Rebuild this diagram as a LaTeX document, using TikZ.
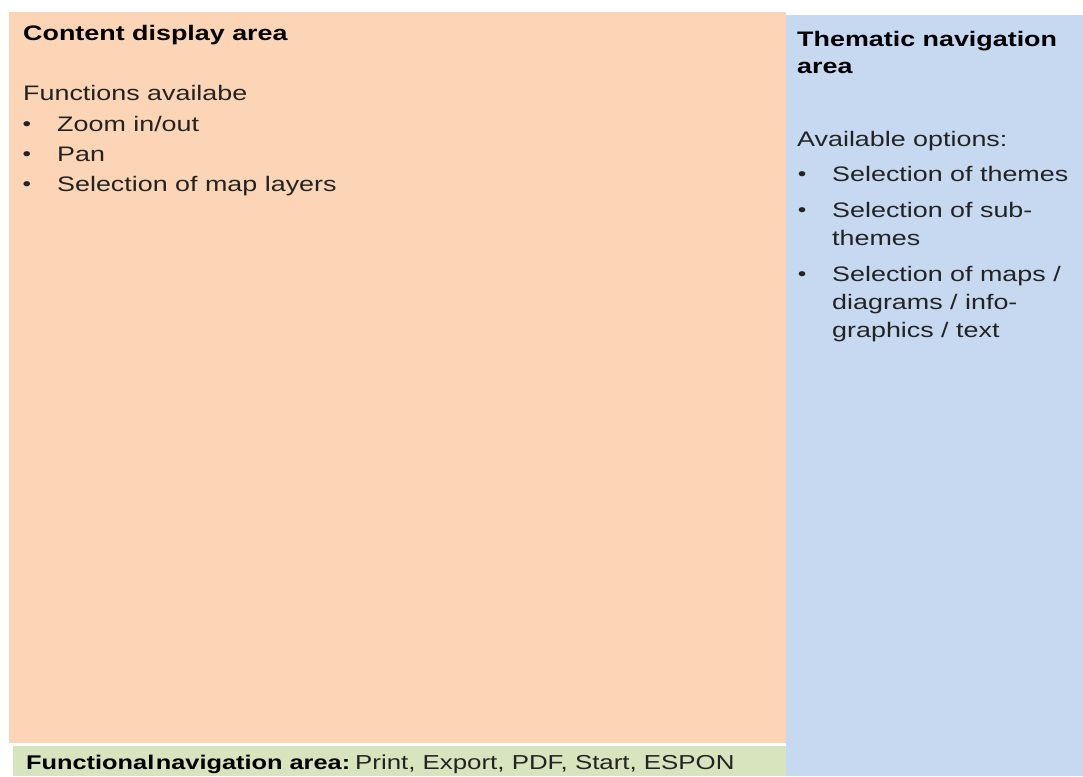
\documentclass[tikz,border=0pt]{standalone}
\usepackage{fontspec}
\setmainfont{Liberation Sans}[FakeStretch=1.28]
\definecolor{orangebg}{RGB}{251,213,181}
\definecolor{bluebg}{RGB}{198,217,241}
\definecolor{greenbg}{RGB}{215,228,189}
\definecolor{txt}{RGB}{35,35,35}
\begin{document}
\begin{tikzpicture}[x=1pt,y=-1pt,
  line/.style={anchor=base west,inner sep=0pt,text=txt,font=\fontsize{21}{28}\selectfont},
  ttl/.style={line,text=black,font=\fontsize{21}{28}\selectfont\bfseries},
  bul/.style={anchor=base,inner sep=0pt,text=txt,font=\fontsize{19}{20}\selectfont}]
\useasboundingbox (0,0) rectangle (1083,776);
\fill[white] (0,0) rectangle (1083,776);
% areas
\fill[orangebg] (9,12) rectangle (786,743);
\fill[bluebg] (786,15) rectangle (1083,776);
\fill[greenbg] (13,746) rectangle (786,776);
% content display area
\node[ttl] (cda) at (23,41) {Content display area};
\node[line] (fa) at (23,100) {Functions availabe};
\node[bul] (b1) at (27,130) {•};
\node[line] (l1) at (57,131) {Zoom in/out};
\node[bul] (b2) at (27,160) {•};
\node[line] (l2) at (57,161) {Pan};
\node[bul] (b3) at (27,190) {•};
\node[line] (l3) at (57,191) {Selection of map layers};
% thematic navigation area
\node[ttl] (tna1) at (797,46) {Thematic navigation};
\node[ttl] (tna2) at (797,74) {area};
\node[line] (ao) at (797,146) {Available options:};
\node[bul] (r1) at (802,180) {•};
\node[line] (t1) at (832,181) {Selection of themes};
\node[bul] (r2) at (802,216) {•};
\node[line] (t2a) at (832,217) {Selection of sub-};
\node[line] (t2b) at (832,245) {themes};
\node[bul] (r3) at (802,280) {•};
\node[line] (t3a) at (832,281) {Selection of maps /};
\node[line] (t3b) at (832,309) {diagrams / info-};
\node[line] (t3c) at (832,337) {graphics / text};
% functional navigation area
\node[anchor=base west,inner sep=0pt,text=txt] (fna) at (26,769)
  {{\fontsize{19.8}{24}\selectfont\bfseries\color{black}Functional\hspace{1.5pt}navigation area:}\hspace{5pt}{\fontsize{20.2}{24}\selectfont Print, Export, PDF, Start, ESPON}};
\end{tikzpicture}
\end{document}
